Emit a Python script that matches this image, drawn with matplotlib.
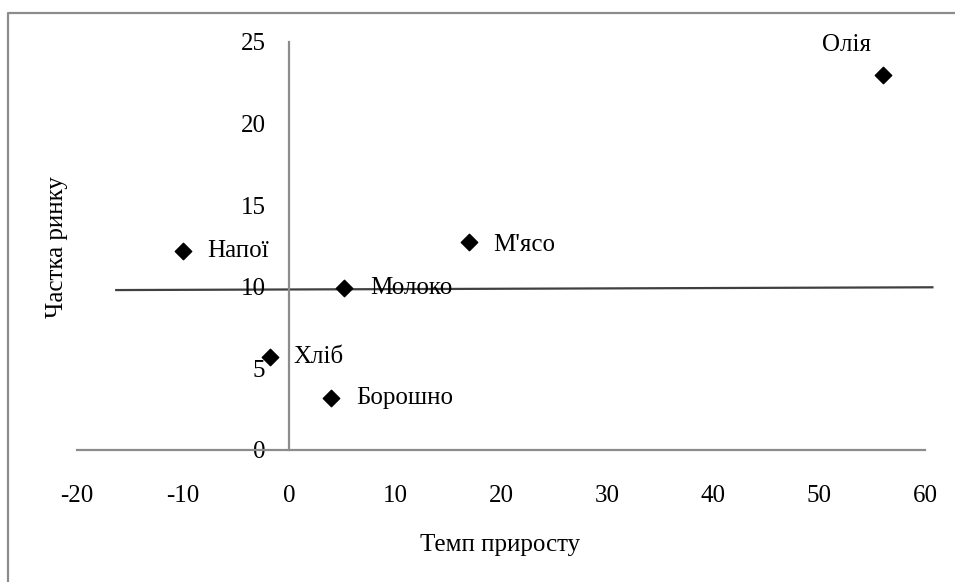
import matplotlib.pyplot as plt
from matplotlib.lines import Line2D

# дані
products = ["Олія", "М'ясо", "Напої", "Молоко", "Хліб", "Борошно"]
growth = [56, 17, -10, 5.2, -1.8, 4.0]
share = [23.0, 12.75, 12.2, 9.9, 5.7, 3.2]

# лінія розподілу
line_x = [-16.3, 60.7]
line_y = [9.8, 9.97]

plt.rcParams['font.family'] = ['Liberation Serif', 'DejaVu Serif']
plt.rcParams['axes.unicode_minus'] = False

fig = plt.figure(figsize=(9.55, 5.82), dpi=100)
ax = fig.add_axes([77/955, 1 - 450/582, 848/955, 408/582])

ax.plot(line_x, line_y, color='#404040', lw=1.6, zorder=1, clip_on=False)
ax.scatter(growth, share, marker='D', s=70, color='black', zorder=3, clip_on=False)

offsets = {
    "Олія": (-12, 30, 'right'),
    "М'ясо": (24, -3, 'left'),
    "Напої": (24, 0, 'left'),
    "Молоко": (26, 0, 'left'),
    "Хліб": (24, 0, 'left'),
    "Борошно": (25, 0, 'left'),
}
for name, gx, sy in zip(products, growth, share):
    dx, dy, ha = offsets[name]
    ax.annotate(name, (gx, sy), xytext=(dx * 0.72, dy * 0.72), textcoords='offset points',
                ha=ha, va='center', fontsize=18, color='black')

ax.set_xlim(-20, 60)
ax.set_ylim(0, 25)
ax.set_xticks(range(-20, 61, 10))
ax.set_yticks(range(0, 26, 5))

ax.spines['left'].set_position(('data', 0))
ax.spines['bottom'].set_position(('data', 0))
for s in ['top', 'right']:
    ax.spines[s].set_visible(False)
for s in ['left', 'bottom']:
    ax.spines[s].set_color('#8c8c8c')
    ax.spines[s].set_linewidth(1.6)

ax.tick_params(axis='x', length=0, pad=25, labelsize=18)
ax.tick_params(axis='y', length=0, pad=17, labelsize=18)
ax.patch.set_visible(False)

fig.text(500/955, 1 - 545/582, "Темп приросту", ha='center', va='center', fontsize=18)
fig.text(57/955, 1 - 247/582, "Частка ринку", ha='center', va='center', fontsize=18, rotation=90)

# рамка діаграми (видно лише ліву і верхню сторони)
fig.lines.append(Line2D([8/955, 8/955, 1.0], [0.0, 1 - 13/582, 1 - 13/582],
                        transform=fig.transFigure, color='#8c8c8c', lw=1.6))

fig.savefig('out.png', dpi=100)
